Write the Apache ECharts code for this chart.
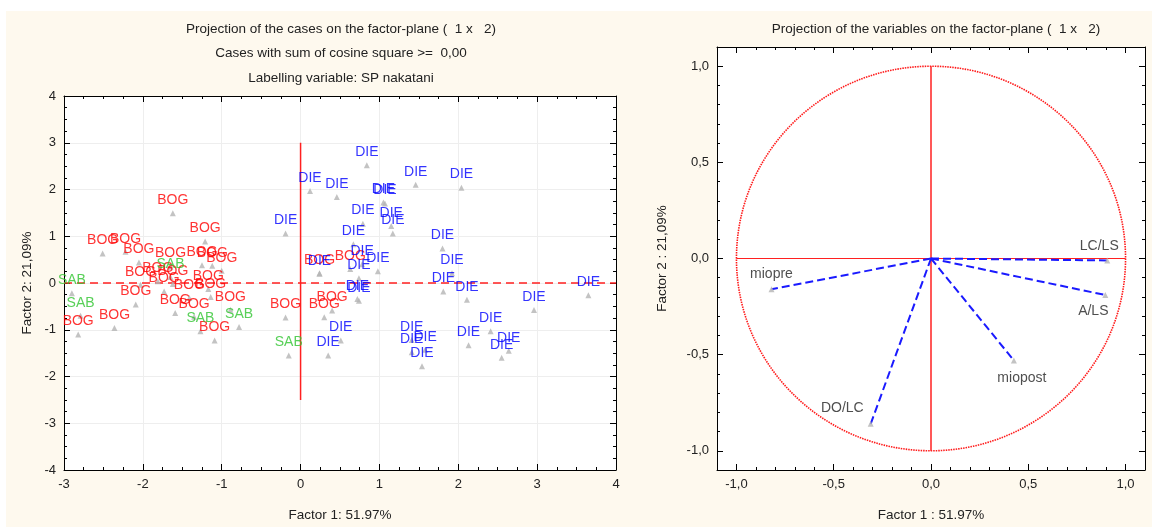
<!DOCTYPE html>
<html>
<head>
<meta charset="utf-8">
<script src="https://cdn.jsdelivr.net/npm/echarts@6/dist/echarts.min.js"></script>
<style>
html, body { margin: 0; padding: 0; background: #fff; }
#chart { width: 1152px; height: 527px; }
</style>
</head>
<body>
<div id="chart"></div>
<script>
// cases: factor 1 / factor 2 coordinates, per group
let bogX = [-2.51, -2.22, -1.62, -1.21, -2.82, -2.36, -2.09, -1.59, -1.09, -0.19, -2.05, -1.65, -1.25, -1.12,
    -1.00, -1.81, -2.03, -1.62, -1.73, -1.17, -1.41, -1.14, -0.89, -1.35, 0.24, 0.63, 0.40, 0.30];
let bogY = [0.63, 0.67, 1.49, 0.89, -1.10, -0.96, -0.46, -0.64, -1.23, -0.74, 0.44, 0.35, 0.38, 0.37,
    0.26, 0.04, -0.04, -0.02, -0.18, -0.13, -0.32, -0.30, -0.57, -0.72, 0.21, 0.30, -0.59, -0.73];
let dieX = [0.84, 0.12, 0.46, 1.46, 2.04, 1.05, 1.07, -0.19, 0.79, 1.15, 1.17, 0.67, 1.80, 1.92, 1.81, 2.11, 3.65,
    2.96, 2.41, 2.13, 2.64, 2.55, 1.54, 1.41, 1.41, 1.58, 0.51, 0.35, 0.72, 0.74, 0.24, 0.78, 0.98, 0.74];
let dieY = [2.52, 1.97, 1.84, 2.10, 2.04, 1.72, 1.70, 1.06, 1.27, 1.22, 1.06, 0.83, 0.74, 0.21, -0.18, -0.36, -0.26,
    -0.58, -1.03, -1.33, -1.45, -1.60, -1.78, -1.22, -1.48, -1.43, -1.23, -1.55, -0.34, -0.38, 0.20, 0.40, 0.25, 0.10];
let sabX = [-2.90, -2.79, -1.65, -1.27, -0.78, -0.15];
let sabY = [-0.22, -0.70, 0.13, -1.03, -0.94, -1.55];

// reference lines of the cases plot
let caseHLine = [[-3, 0], [4, 0]];
let caseVLine = [[0, -2.5], [0, 3]];

// variables: loadings on factor 1 / factor 2
let varNames = ['LC/LS', 'A/LS', 'miopost', 'DO/LC', 'miopre'];
let varF1 = [0.906, 0.896, 0.426, -0.31, -0.82];
let varF2 = [-0.01, -0.19, -0.53, -0.86, -0.16];
let unitCircle = [[0, 0, 1]];
let varHLine = [[-1, 0], [1, 0]];
let varVLine = [[0, -1], [0, 1]];

let caseTicksX = [-3, 4];
let caseTicksY = [-4, 4];
let varMajor = [-1, -0.5, 0, 0.5, 1];

const FONT = '"Liberation Sans", Arial, sans-serif';
const TXT = '#222';

function pairs(xs, ys) {
    return xs.map((x, i) => [x, ys[i]]);
}

function caseAxis(dim, pos, main, name) {
    let range = dim == 'x' ? caseTicksX : caseTicksY;
    return {
        type: 'value', gridIndex: 0, position: pos,
        min: range[0], max: range[1], interval: 1,
        axisLine: { onZero: false, lineStyle: { color: '#000', width: 1 } },
        axisTick: { inside: true, length: 6, lineStyle: { color: '#000' } },
        minorTick: { show: true, splitNumber: 4, length: 3, lineStyle: { color: '#000' } },
        axisLabel: { show: main, color: TXT, fontSize: 13, fontFamily: FONT, margin: 8 },
        splitLine: { show: main, lineStyle: { color: '#eeeeee' } },
        name: main ? name : '',
        nameLocation: 'middle',
        nameGap: dim == 'x' ? 38 : 30,
        nameTextStyle: { color: TXT, fontSize: 13.5, fontFamily: FONT }
    };
}

function fmtComma(v) {
    return v.toFixed(1).replace('.', ',');
}

// minor axis: ticks every 0.1, frame line
function varMinorAxis(pos) {
    return {
        type: 'value', gridIndex: 1, position: pos,
        min: -1.1, max: 1.1, interval: 0.1,
        axisLine: { onZero: false, lineStyle: { color: '#000', width: 1 } },
        axisTick: { inside: true, length: 3, lineStyle: { color: '#000' } },
        axisLabel: { show: false },
        splitLine: { show: false }
    };
}

// major axis: ticks and labels at 0.5 steps
function varMajorAxis(dim, pos, main, name) {
    return {
        type: 'value', gridIndex: 1, position: pos,
        min: -1.1, max: 1.1,
        axisLine: { show: false, onZero: false },
        axisTick: { inside: true, length: 6, customValues: varMajor, lineStyle: { color: '#000' } },
        axisLabel: { show: main, customValues: varMajor, formatter: fmtComma, color: TXT, fontSize: 13, fontFamily: FONT, margin: 8 },
        splitLine: { show: false },
        name: main ? name : '',
        nameLocation: 'middle',
        nameGap: dim == 'x' ? 38 : 48,
        nameTextStyle: { color: TXT, fontSize: 13.5, fontFamily: FONT }
    };
}

function caseSeries(name, xs, ys, color) {
    return {
        name: name, type: 'scatter', xAxisIndex: 0, yAxisIndex: 0,
        symbol: 'triangle', symbolSize: 6,
        itemStyle: { color: '#b4b4b4' },
        label: { show: true, position: 'top', distance: 3, formatter: name, color: color, fontSize: 14, fontFamily: FONT },
        data: pairs(xs, ys), z: 5
    };
}

let varLabelPos = {
    'LC/LS': { position: 'top', offset: [-8, 0] },
    'A/LS': { position: 'bottom', offset: [-12, 2] },
    'miopost': { position: 'bottom', offset: [8, 4] },
    'DO/LC': { position: 'left', offset: [0, -16] },
    'miopre': { position: 'top', offset: [0, -1] }
};

let series = [
    { type: 'line', xAxisIndex: 0, yAxisIndex: 0, data: caseHLine, symbol: 'none', silent: true,
      lineStyle: { color: '#ff2020', width: 1.5, type: [8, 5] } },
    { type: 'line', xAxisIndex: 0, yAxisIndex: 0, data: caseVLine, symbol: 'none', silent: true,
      lineStyle: { color: '#ff2020', width: 1.5 } },
    caseSeries('BOG', bogX, bogY, '#ff0000'),
    caseSeries('SAB', sabX, sabY, '#2ec42e'),
    caseSeries('DIE', dieX, dieY, '#0000ff'),
    {
        type: 'custom', xAxisIndex: 2, yAxisIndex: 2, data: unitCircle, silent: true,
        renderItem: function(params, api) {
            let c = api.coord([api.value(0), api.value(1)]);
            let r = api.size([api.value(2), api.value(2)]);
            return {
                type: 'ellipse',
                shape: { cx: c[0], cy: c[1], rx: r[0], ry: r[1] },
                style: { fill: 'none', stroke: '#ff1a1a', lineWidth: 1.6, lineDash: [1.5, 1] }
            };
        }
    },
    { type: 'line', xAxisIndex: 2, yAxisIndex: 2, data: varHLine, symbol: 'none', silent: true,
      lineStyle: { color: '#ff2020', width: 1.2 } },
    { type: 'line', xAxisIndex: 2, yAxisIndex: 2, data: varVLine, symbol: 'none', silent: true,
      lineStyle: { color: '#ff2020', width: 1.5 } }
];

varNames.forEach((n, i) => {
    series.push({
        type: 'line', xAxisIndex: 2, yAxisIndex: 2, symbol: 'none', silent: true,
        data: [[0, 0], [varF1[i], varF2[i]]],
        lineStyle: { color: '#1a1aff', width: 2, type: [8, 4] }, z: 4
    });
});

series.push({
    type: 'scatter', xAxisIndex: 2, yAxisIndex: 2,
    symbol: 'triangle', symbolSize: 6,
    itemStyle: { color: '#b4b4b4' },
    data: varNames.map((n, i) => ({
        name: n, value: [varF1[i], varF2[i]],
        label: Object.assign({ show: true, formatter: n, color: TXT, fontSize: 14, fontFamily: FONT, distance: 4 }, varLabelPos[n])
    })),
    z: 5
});

let titleStyle = { color: TXT, fontSize: 13.5, fontWeight: 'normal', fontFamily: FONT };

let option = {
    backgroundColor: '#ffffff',
    animation: false,
    graphic: [
        { type: 'rect', left: 6, top: 11, shape: { width: 1146, height: 516 }, style: { fill: '#fef9ee' }, z: -10, silent: true }
    ],
    title: [
        { text: 'Projection of the cases on the factor-plane (  1 x   2)', left: 336, top: 17, textAlign: 'center', textStyle: titleStyle },
        { text: 'Cases with sum of cosine square >=  0,00', left: 336, top: 41, textAlign: 'center', textStyle: titleStyle },
        { text: 'Labelling variable: SP nakatani', left: 336, top: 66, textAlign: 'center', textStyle: titleStyle },
        { text: 'Projection of the variables on the factor-plane (  1 x   2)', left: 931, top: 17, textAlign: 'center', textStyle: titleStyle }
    ],
    grid: [
        { left: 64, top: 96, width: 552, height: 377, show: true, backgroundColor: '#ffffff', borderWidth: 0 },
        { left: 717, top: 47, width: 428, height: 426, show: true, backgroundColor: '#ffffff', borderWidth: 0 }
    ],
    xAxis: [
        caseAxis('x', 'bottom', true, 'Factor 1: 51.97%'),
        caseAxis('x', 'top', false, ''),
        varMinorAxis('bottom'),
        varMinorAxis('top'),
        varMajorAxis('x', 'bottom', true, 'Factor 1 : 51.97%'),
        varMajorAxis('x', 'top', false, '')
    ],
    yAxis: [
        caseAxis('y', 'left', true, 'Factor 2: 21,09%'),
        caseAxis('y', 'right', false, ''),
        varMinorAxis('left'),
        varMinorAxis('right'),
        varMajorAxis('y', 'left', true, 'Factor 2 : 21,09%'),
        varMajorAxis('y', 'right', false, '')
    ],
    series: series
};

let myChart = echarts.init(document.getElementById('chart'));
myChart.setOption(option, true);
</script>
</body>
</html>
